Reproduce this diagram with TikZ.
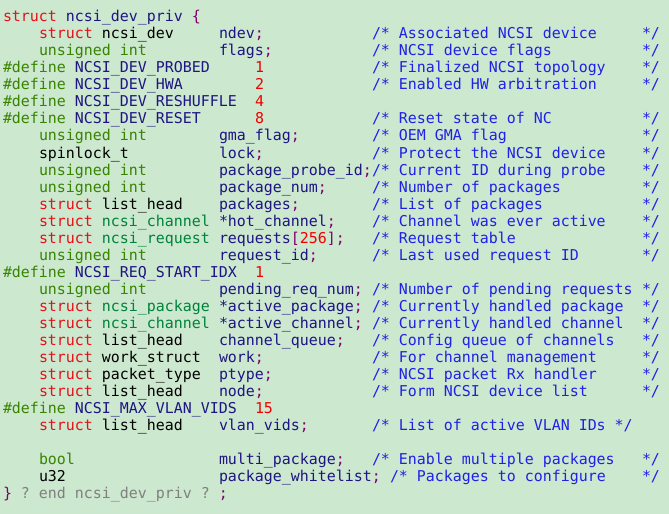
\documentclass[tikz,border=0pt]{standalone}
\usepackage{fontspec}
\setmonofont{DejaVu Sans Mono}
\definecolor{bg}{RGB}{204,232,207}
\definecolor{kw}{RGB}{232,16,24}
\definecolor{num}{RGB}{240,0,0}
\definecolor{gtype}{RGB}{56,132,0}
\definecolor{ttype}{RGB}{0,130,60}
\definecolor{fld}{RGB}{30,20,130}
\definecolor{cmt}{RGB}{32,32,230}
\definecolor{pun}{RGB}{128,0,110}
\definecolor{gry}{RGB}{128,128,128}
\newcommand\K[1]{\textcolor{kw}{#1}}
\newcommand\G[1]{\textcolor{gtype}{#1}}
\newcommand\T[1]{\textcolor{ttype}{#1}}
\newcommand\F[1]{\textcolor{fld}{#1}}
\newcommand\Cm[1]{\textcolor{cmt}{#1}}
\newcommand\Nm[1]{\textcolor{num}{#1}}
\newcommand\Pu[1]{\textcolor{pun}{#1}}
\newcommand\Bk[1]{\textcolor{black}{#1}}
\newcommand\Gy[1]{\textcolor{gry}{#1}}
\newcommand\tk[3]{\node (t#1x#2) [tok] at ({3+9*#2},{21.7+17.04*(#1-1)}) {#3};}
\newcommand\ce[1]{\tk{#1}{71}{\Cm{*/}}}
\begin{document}
\begin{tikzpicture}[x=0.75pt,y=-0.75pt,
  tok/.style={anchor=base west,inner sep=0pt,outer sep=0pt,font=\ttfamily\fontsize{11.2pt}{13pt}\selectfont}]
\fill[bg] (0,0) rectangle (669,514);
\useasboundingbox (0,0) rectangle (669,514);
% 1
\tk{1}{0}{\K{struct} \F{ncsi\_dev\_priv} \Pu{\{}}
% 2
\tk{2}{4}{\K{struct} \Bk{ncsi\_dev}}
\tk{2}{24}{\F{ndev}\Pu{;}}
\tk{2}{41}{\Cm{/* Associated NCSI device}}\ce{2}
% 3
\tk{3}{4}{\G{unsigned int}}
\tk{3}{24}{\F{flags}\Pu{;}}
\tk{3}{41}{\Cm{/* NCSI device flags}}\ce{3}
% 4
\tk{4}{0}{\G{\#define} \F{NCSI\_DEV\_PROBED}}
\tk{4}{28}{\Nm{1}}
\tk{4}{41}{\Cm{/* Finalized NCSI topology}}\ce{4}
% 5
\tk{5}{0}{\G{\#define} \F{NCSI\_DEV\_HWA}}
\tk{5}{28}{\Nm{2}}
\tk{5}{41}{\Cm{/* Enabled HW arbitration}}\ce{5}
% 6
\tk{6}{0}{\G{\#define} \F{NCSI\_DEV\_RESHUFFLE}}
\tk{6}{28}{\Nm{4}}
% 7
\tk{7}{0}{\G{\#define} \F{NCSI\_DEV\_RESET}}
\tk{7}{28}{\Nm{8}}
\tk{7}{41}{\Cm{/* Reset state of NC}}\ce{7}
% 8
\tk{8}{4}{\G{unsigned int}}
\tk{8}{24}{\F{gma\_flag}\Pu{;}}
\tk{8}{41}{\Cm{/* OEM GMA flag}}\ce{8}
% 9
\tk{9}{4}{\Bk{spinlock\_t}}
\tk{9}{24}{\F{lock}\Pu{;}}
\tk{9}{41}{\Cm{/* Protect the NCSI device}}\ce{9}
% 10
\tk{10}{4}{\G{unsigned int}}
\tk{10}{24}{\F{package\_probe\_id}\Pu{;}}
\tk{10}{41}{\Cm{/* Current ID during probe}}\ce{10}
% 11
\tk{11}{4}{\G{unsigned int}}
\tk{11}{24}{\F{package\_num}\Pu{;}}
\tk{11}{41}{\Cm{/* Number of packages}}\ce{11}
% 12
\tk{12}{4}{\K{struct} \Bk{list\_head}}
\tk{12}{24}{\F{packages}\Pu{;}}
\tk{12}{41}{\Cm{/* List of packages}}\ce{12}
% 13
\tk{13}{4}{\K{struct} \T{ncsi\_channel}}
\tk{13}{24}{\F{*hot\_channel}\Pu{;}}
\tk{13}{41}{\Cm{/* Channel was ever active}}\ce{13}
% 14
\tk{14}{4}{\K{struct} \T{ncsi\_request}}
\tk{14}{24}{\F{requests}\Pu{[}\Nm{256}\Pu{];}}
\tk{14}{41}{\Cm{/* Request table}}\ce{14}
% 15
\tk{15}{4}{\G{unsigned int}}
\tk{15}{24}{\F{request\_id}\Pu{;}}
\tk{15}{41}{\Cm{/* Last used request ID}}\ce{15}
% 16
\tk{16}{0}{\G{\#define} \F{NCSI\_REQ\_START\_IDX}}
\tk{16}{28}{\Nm{1}}
% 17
\tk{17}{4}{\G{unsigned int}}
\tk{17}{24}{\F{pending\_req\_num}\Pu{;}}
\tk{17}{41}{\Cm{/* Number of pending requests}}\ce{17}
% 18
\tk{18}{4}{\K{struct} \T{ncsi\_package}}
\tk{18}{24}{\F{*active\_package}\Pu{;}}
\tk{18}{41}{\Cm{/* Currently handled package}}\ce{18}
% 19
\tk{19}{4}{\K{struct} \T{ncsi\_channel}}
\tk{19}{24}{\F{*active\_channel}\Pu{;}}
\tk{19}{41}{\Cm{/* Currently handled channel}}\ce{19}
% 20
\tk{20}{4}{\K{struct} \Bk{list\_head}}
\tk{20}{24}{\F{channel\_queue}\Pu{;}}
\tk{20}{41}{\Cm{/* Config queue of channels}}\ce{20}
% 21
\tk{21}{4}{\K{struct} \Bk{work\_struct}}
\tk{21}{24}{\F{work}\Pu{;}}
\tk{21}{41}{\Cm{/* For channel management}}\ce{21}
% 22
\tk{22}{4}{\K{struct} \Bk{packet\_type}}
\tk{22}{24}{\F{ptype}\Pu{;}}
\tk{22}{41}{\Cm{/* NCSI packet Rx handler}}\ce{22}
% 23
\tk{23}{4}{\K{struct} \Bk{list\_head}}
\tk{23}{24}{\F{node}\Pu{;}}
\tk{23}{41}{\Cm{/* Form NCSI device list}}\ce{23}
% 24
\tk{24}{0}{\G{\#define} \F{NCSI\_MAX\_VLAN\_VIDS}}
\tk{24}{28}{\Nm{15}}
% 25
\tk{25}{4}{\K{struct} \Bk{list\_head}}
\tk{25}{24}{\F{vlan\_vids}\Pu{;}}
\tk{25}{41}{\Cm{/* List of active VLAN IDs */}}
% 27
\tk{27}{4}{\G{bool}}
\tk{27}{24}{\F{multi\_package}\Pu{;}}
\tk{27}{41}{\Cm{/* Enable multiple packages}}\ce{27}
% 28
\tk{28}{4}{\Bk{u32}}
\tk{28}{24}{\F{package\_whitelist}\Pu{;}}
\tk{28}{43}{\Cm{/* Packages to configure}}\ce{28}
% 29
\tk{29}{0}{\Pu{\}} \Gy{? end ncsi\_dev\_priv ?} \Pu{;}}
\end{tikzpicture}
\end{document}
